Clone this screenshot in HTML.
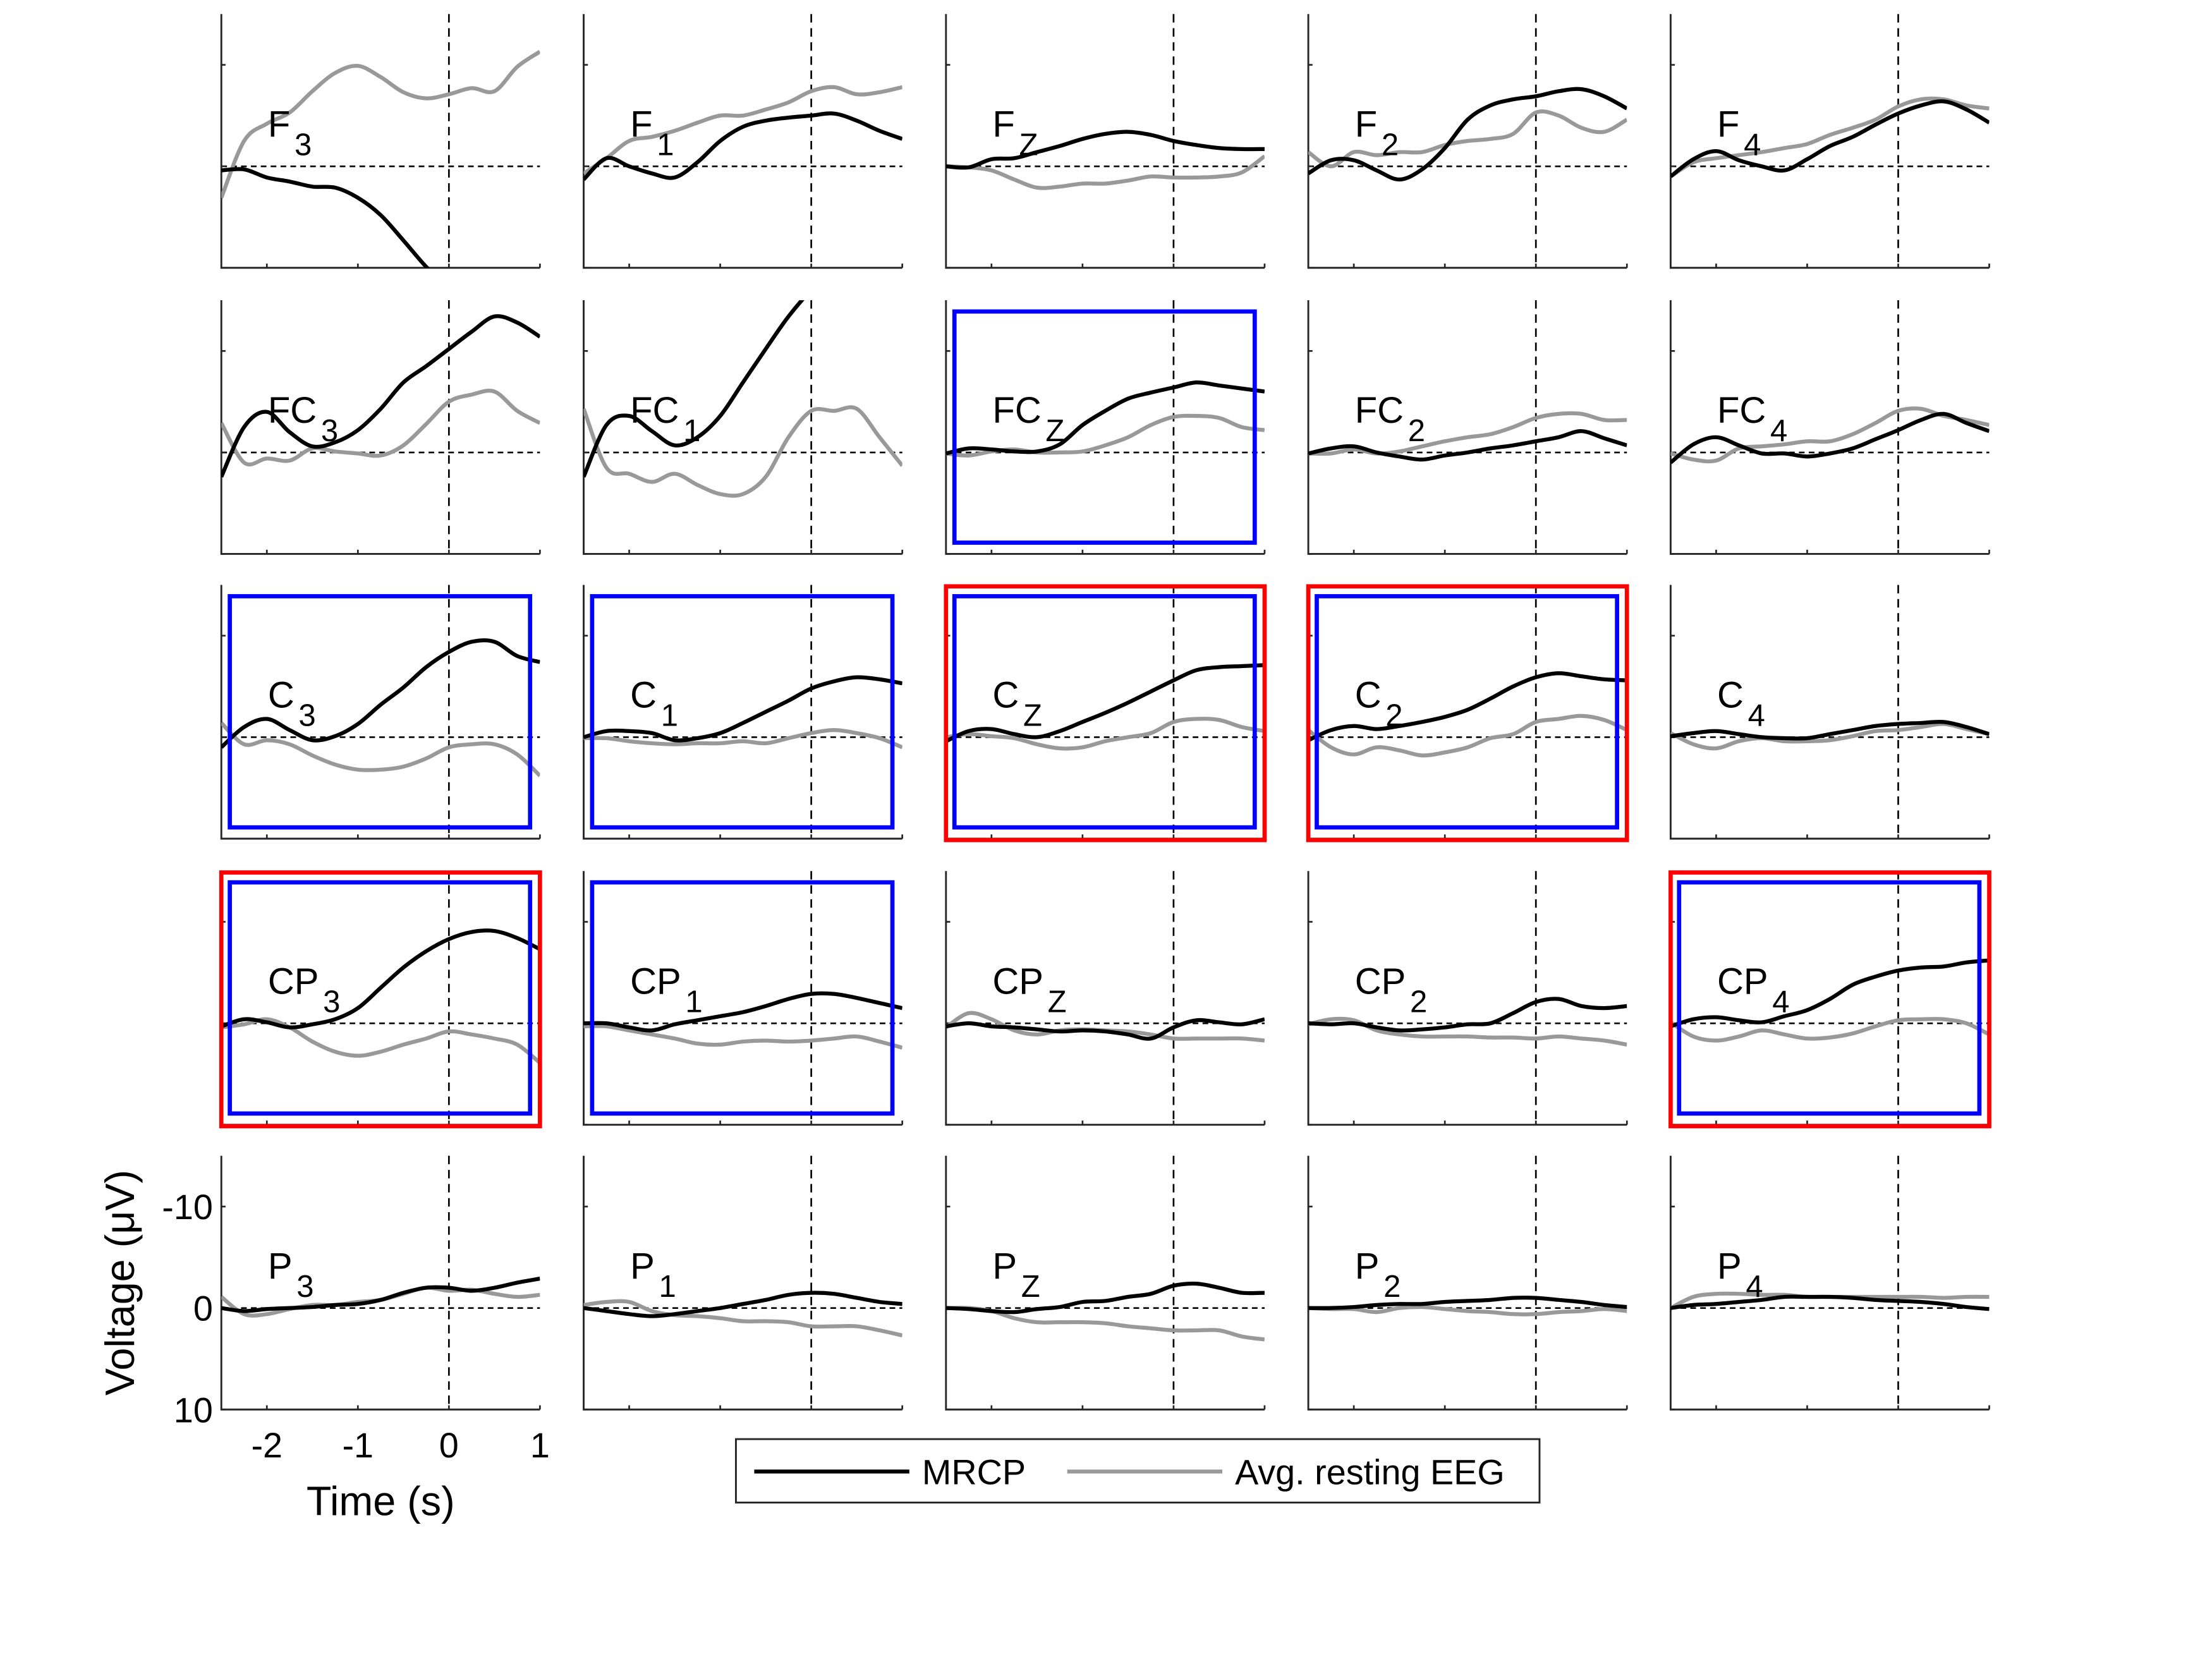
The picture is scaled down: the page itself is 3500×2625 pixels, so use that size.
<!DOCTYPE html>
<html><head><meta charset="utf-8"><style>
html,body{margin:0;padding:0;background:#fff;}
svg{display:block;}
text{font-family:"Liberation Sans",Arial,sans-serif;fill:#000;}
</style></head><body>
<svg id="chart" width="3500" height="2625" viewBox="0 0 1569 1177" preserveAspectRatio="none" xmlns="http://www.w3.org/2000/svg"></svg>
<script>
const channels = [["F","3"],["F","1"],["F","Z"],["F","2"],["F","4"],
 ["FC","3"],["FC","1"],["FC","Z"],["FC","2"],["FC","4"],
 ["C","3"],["C","1"],["C","Z"],["C","2"],["C","4"],
 ["CP","3"],["CP","1"],["CP","Z"],["CP","2"],["CP","4"],
 ["P","3"],["P","1"],["P","Z"],["P","2"],["P","4"]];
const times = [-2.5,-2.25,-2,-1.75,-1.5,-1.25,-1,-0.75,-0.5,-0.25,0,0.25,0.5,0.75,1];
const mrcp = [
 [0.4,0.3,1.1,1.5,2,2.1,3.1,4.8,7.3,9.9,12,14,16,17,18],
 [1.3,-0.8,0,0.7,1.1,-0.4,-2.5,-3.9,-4.5,-4.8,-5,-5.2,-4.5,-3.5,-2.7],
 [0,0.1,-0.7,-0.8,-1.4,-2,-2.7,-3.2,-3.4,-3.1,-2.5,-2.1,-1.8,-1.7,-1.7],
 [0.7,-0.6,-0.6,0.4,1.3,0.3,-1.8,-4.6,-6,-6.6,-6.9,-7.4,-7.6,-6.9,-5.7],
 [1,-0.7,-1.5,-0.6,0,0.4,-0.7,-2,-2.9,-4.1,-5.2,-6,-6.4,-5.6,-4.3],
 [2.4,-2.5,-4,-2,-0.6,-1,-2.2,-4.3,-6.9,-8.5,-10.2,-11.9,-13.4,-12.8,-11.4],
 [2.4,-2.7,-3.6,-2.1,-0.7,-1.5,-3.6,-6.9,-10.2,-13.4,-16,-18,-20,-22,-24],
 [0.1,-0.4,-0.3,-0.1,-0.1,-0.8,-2.7,-4.1,-5.3,-5.9,-6.4,-6.9,-6.6,-6.3,-6],
 [0.1,-0.4,-0.6,0,0.4,0.7,0.3,0,-0.4,-0.7,-1.1,-1.5,-2.1,-1.4,-0.7],
 [1,-0.8,-1.5,-0.7,0.1,0.1,0.4,0.1,-0.4,-1.3,-2.2,-3.2,-3.8,-2.9,-2.1],
 [1,-1,-1.8,-0.7,0.3,-0.1,-1.3,-3.2,-4.9,-6.9,-8.4,-9.4,-9.4,-8,-7.4],
 [0,-0.6,-0.6,-0.4,0.3,0.1,-0.4,-1.4,-2.5,-3.6,-4.8,-5.5,-5.9,-5.7,-5.3],
 [0.4,-0.6,-0.8,-0.3,0,-0.6,-1.5,-2.4,-3.4,-4.5,-5.6,-6.6,-6.9,-7,-7.1],
 [0.3,-0.7,-1.1,-0.8,-1.1,-1.5,-2,-2.7,-3.8,-5,-5.9,-6.3,-6,-5.7,-5.6],
 [-0.1,-0.4,-0.6,-0.3,0,0.1,0.1,-0.3,-0.7,-1.1,-1.3,-1.4,-1.5,-1,-0.3],
 [0.3,-0.4,-0.1,0.4,0.1,-0.4,-1.5,-3.5,-5.5,-7.1,-8.3,-9,-9.1,-8.4,-7.3],
 [0,0,0.4,0.7,0.1,-0.3,-0.7,-1.1,-1.7,-2.4,-2.9,-2.9,-2.5,-2,-1.5],
 [0.3,0,0.3,0.4,0.6,0.8,0.7,0.8,1.1,1.5,0.4,-0.3,-0.1,0.1,-0.4],
 [0,0.1,0,0.4,0.7,0.6,0.4,0.1,0,-1,-2.1,-2.4,-1.7,-1.5,-1.7],
 [0.3,-0.4,-0.6,-0.3,-0.1,-0.7,-1.3,-2.4,-3.8,-4.6,-5.2,-5.5,-5.6,-6,-6.2],
 [0,0.3,0.1,0,-0.1,-0.3,-0.4,-0.8,-1.5,-2,-2,-1.7,-2,-2.5,-2.9],
 [0,0.3,0.6,0.8,0.6,0.3,0,-0.4,-0.8,-1.3,-1.5,-1.4,-1,-0.6,-0.4],
 [0,0.1,0.3,0.4,0.1,-0.1,-0.6,-0.7,-1.1,-1.4,-2.2,-2.4,-2,-1.5,-1.5],
 [0,0,-0.1,-0.3,-0.4,-0.4,-0.6,-0.7,-0.8,-1,-1,-0.8,-0.6,-0.3,-0.1],
 [0,-0.3,-0.4,-0.6,-0.8,-1.1,-1.1,-1.1,-1,-0.8,-0.7,-0.6,-0.4,-0.1,0.1]];
const resting = [
 [3.1,-2.5,-4.2,-5.3,-7.4,-9.2,-9.9,-8.8,-7.3,-6.7,-7.1,-7.7,-7.4,-9.8,-11.3],
 [0.7,-0.8,-2.5,-2.9,-3.5,-4.3,-5,-5,-5.6,-6.3,-7.4,-7.8,-7.1,-7.3,-7.8],
 [0,0.1,0.4,1.3,2.1,2,1.7,1.7,1.4,1,1.1,1.1,1,0.6,-1],
 [-1.4,0,-1.4,-1.1,-1.4,-1.4,-2.1,-2.5,-2.7,-3.2,-5.3,-5,-3.8,-3.4,-4.6],
 [1,-0.4,-0.8,-1.1,-1.4,-1.8,-2.2,-3.1,-3.8,-4.6,-5.9,-6.6,-6.6,-6,-5.7],
 [-2.9,1,0.6,0.8,-0.4,-0.1,0.1,0.3,-0.7,-2.8,-5,-5.7,-6,-4.1,-2.9],
 [-4.3,1.5,2.1,2.9,2.1,3.2,4.1,4.1,2.4,-1.5,-4.1,-4.1,-4.3,-1.5,1.3],
 [0.1,0.3,-0.1,-0.3,0,0,-0.1,-0.7,-1.5,-2.7,-3.5,-3.6,-3.4,-2.5,-2.2],
 [0.1,0.1,-0.3,0.1,-0.1,-0.6,-1.1,-1.5,-1.8,-2.5,-3.4,-3.8,-3.8,-3.2,-3.2],
 [0.1,0.7,0.8,-0.4,-0.6,-0.8,-1.1,-1.1,-1.8,-2.9,-4.1,-4.3,-3.6,-3.2,-2.7],
 [-1.4,0.7,0.3,0.7,1.8,2.7,3.2,3.2,2.9,2.1,1,0.7,0.7,1.7,3.8],
 [0.1,0.1,0.4,0.6,0.7,0.6,0.6,0.4,0.6,0.1,-0.4,-0.7,-0.4,0.1,1],
 [0,-0.3,-0.1,0.1,0.7,1.1,1,0.4,0,-0.4,-1.5,-1.8,-1.7,-1,-0.6],
 [-0.7,1,1.7,1,1.3,1.8,1.5,1,0.1,-0.3,-1.5,-1.8,-2.1,-1.7,-0.7],
 [-0.4,0.7,1.1,0.4,0.1,0.4,0.4,0.3,-0.1,-0.6,-0.7,-1,-1.3,-0.8,-0.3],
 [0.4,0.1,-0.4,0.4,1.8,2.8,3.2,2.8,2.1,1.5,0.8,1.1,1.5,2.1,3.9],
 [0.3,0.3,0.7,1.1,1.5,2,2.1,1.8,1.7,1.8,1.7,1.5,1.3,1.8,2.4],
 [0.4,-1,-0.4,0.7,1.1,0.7,0.6,0.7,0.8,1.1,1.5,1.5,1.5,1.5,1.7],
 [0.1,-0.4,-0.3,0.7,1.1,1.3,1.3,1.3,1.4,1.4,1.5,1.3,1.5,1.7,2.1],
 [-0.1,1.3,1.7,1.3,0.7,1.1,1.5,1.4,1,0.3,-0.3,-0.4,-0.4,0,1.1],
 [-1.1,0.6,0.6,0.1,-0.3,-0.3,-0.6,-0.8,-1.4,-2,-1.7,-1.8,-1.4,-1.1,-1.3],
 [-0.3,-0.6,-0.6,0.3,0.7,0.8,1,1.3,1.3,1.4,1.8,1.8,1.8,2.2,2.7],
 [0,0,0.3,1,1.4,1.4,1.4,1.5,1.8,2,2.2,2.2,2.2,2.8,3.1],
 [0,0.1,0.1,0.4,0,-0.1,0.1,0.3,0.4,0.6,0.6,0.4,0.3,0.1,0.3],
 [0,-1.1,-1.4,-1.4,-1.3,-1.3,-1.1,-1.1,-1.1,-1.1,-1.1,-1.1,-1,-1.1,-1.1]];
const blueBoxes = [7,10,11,12,13,15,16,19];
const redBoxes = [12,13,15,19];
const xTicks = [-2,-1,0,1];
const yTicks = [-10,0,10];

const NS = "http://www.w3.org/2000/svg";
const svg = document.getElementById('chart');
const colX = [157,414,671,928,1185], rowY = [10,213,415,618,820];
const W = 226, H = 180, XMIN = -2.5, XMAX = 1, YMIN = -15, YMAX = 10;
function mk(tag, attrs, parent){const e=document.createElementNS(NS,tag);for(const k in attrs)e.setAttribute(k,attrs[k]);(parent||svg).appendChild(e);return e;}
function sx(L,t){return L+(t-XMIN)/(XMAX-XMIN)*W;}
function sy(T,v){return T+(v-YMIN)/(YMAX-YMIN)*H;}
function pathD(pts){
  let d=`M${pts[0][0]},${pts[0][1]}`;
  for(let i=0;i<pts.length-1;i++){
    const p0=pts[Math.max(0,i-1)],p1=pts[i],p2=pts[i+1],p3=pts[Math.min(pts.length-1,i+2)];
    const c1=[p1[0]+(p2[0]-p0[0])/6,p1[1]+(p2[1]-p0[1])/6];
    const c2=[p2[0]-(p3[0]-p1[0])/6,p2[1]-(p3[1]-p1[1])/6];
    d+=` C${c1[0]},${c1[1]} ${c2[0]},${c2[1]} ${p2[0]},${p2[1]}`;
  }
  return d;
}
const defs = mk('defs',{});
channels.forEach((ch,i)=>{
  const L=colX[i%5], T=rowY[Math.floor(i/5)];
  const g=mk('g',{});
  
  
  const cp=mk('clipPath',{id:'clip'+i},defs);
  mk('rect',{x:L,y:T,width:W,height:H},cp);
  const hz=mk('line',{x1:L,x2:L+W,y1:sy(T,0),y2:sy(T,0),stroke:'#000','stroke-width':1.2,'stroke-dasharray':'4,3'},g);
  
  
  const vz=mk('line',{x1:sx(L,0),x2:sx(L,0),y1:T,y2:T+H,stroke:'#000','stroke-width':1.2,'stroke-dasharray':'6,4'},g);
  
  
  const ax=mk('path',{d:`M${L},${T} V${T+H} H${L+W}`,fill:'none',stroke:'#262626','stroke-width':1.3},g);
  
  
  xTicks.forEach(t=>{mk('line',{x1:sx(L,t),x2:sx(L,t),y1:T+H,y2:T+H-3,stroke:'#262626','stroke-width':1.2},g);});
  yTicks.forEach(v=>{mk('line',{x1:L,x2:L+3,y1:sy(T,v),y2:sy(T,v),stroke:'#262626','stroke-width':1.2},g);});
  const gp=mk('path',{d:pathD(times.map((t,k)=>[sx(L,t),sy(T,resting[i][k])])),fill:'none',stroke:'#999999','stroke-width':2.8,'clip-path':`url(#clip${i})`},g);
  
  
  const bp=mk('path',{d:pathD(times.map((t,k)=>[sx(L,t),sy(T,mrcp[i][k])])),fill:'none',stroke:'#000','stroke-width':2.8,'clip-path':`url(#clip${i})`},g);
  
  
  const tx=mk('text',{x:L+33,y:T+87,'font-size':26},g);
  
  
  tx.textContent=ch[0];
  const sub=mk('tspan',{dx:3,dy:13,'font-size':22},tx);
  sub.textContent=ch[1];
  if(blueBoxes.includes(i)){
    const r=mk('rect',{x:L+6,y:T+8,width:W-13,height:H-16,fill:'none',stroke:'#0000ff','stroke-width':3},g);
    
    
  }
  if(redBoxes.includes(i)){
    const r=mk('rect',{x:L,y:T+1,width:W,height:H,fill:'none',stroke:'#ff0000','stroke-width':3},g);
    
    
  }
});
const L0=colX[0], T0=rowY[4];
xTicks.forEach(t=>{
  const e=mk('text',{x:sx(L0,t),y:T0+H+34,'font-size':25,'text-anchor':'middle'});
  
  
  e.textContent=String(t);
});
yTicks.forEach(v=>{
  const e=mk('text',{x:L0-6,y:sy(T0,v)+9,'font-size':25,'text-anchor':'end'});
  
  
  e.textContent=String(v);
});
const xt=mk('text',{x:270,y:1075,'font-size':29,'text-anchor':'middle'});


xt.textContent='Time (s)';
const yt=mk('text',{x:0,y:0,'font-size':29,'text-anchor':'middle',transform:'translate(95,910) rotate(-90)'});


yt.textContent='Voltage (\u03BCV)';
const lg=mk('g',{});


mk('rect',{x:522,y:1021,width:570,height:45,fill:'#fff',stroke:'#262626','stroke-width':1.3},lg);
const l1=mk('line',{x1:535,x2:645,y1:1044,y2:1044,stroke:'#000','stroke-width':2.8},lg);


const t1=mk('text',{x:654,y:1053,'font-size':25},lg);t1.textContent='MRCP';
const l2=mk('line',{x1:757,x2:867,y1:1044,y2:1044,stroke:'#999','stroke-width':2.8},lg);


const t2=mk('text',{x:876,y:1053,'font-size':25},lg);t2.textContent='Avg. resting EEG';
</script>
</body></html>
